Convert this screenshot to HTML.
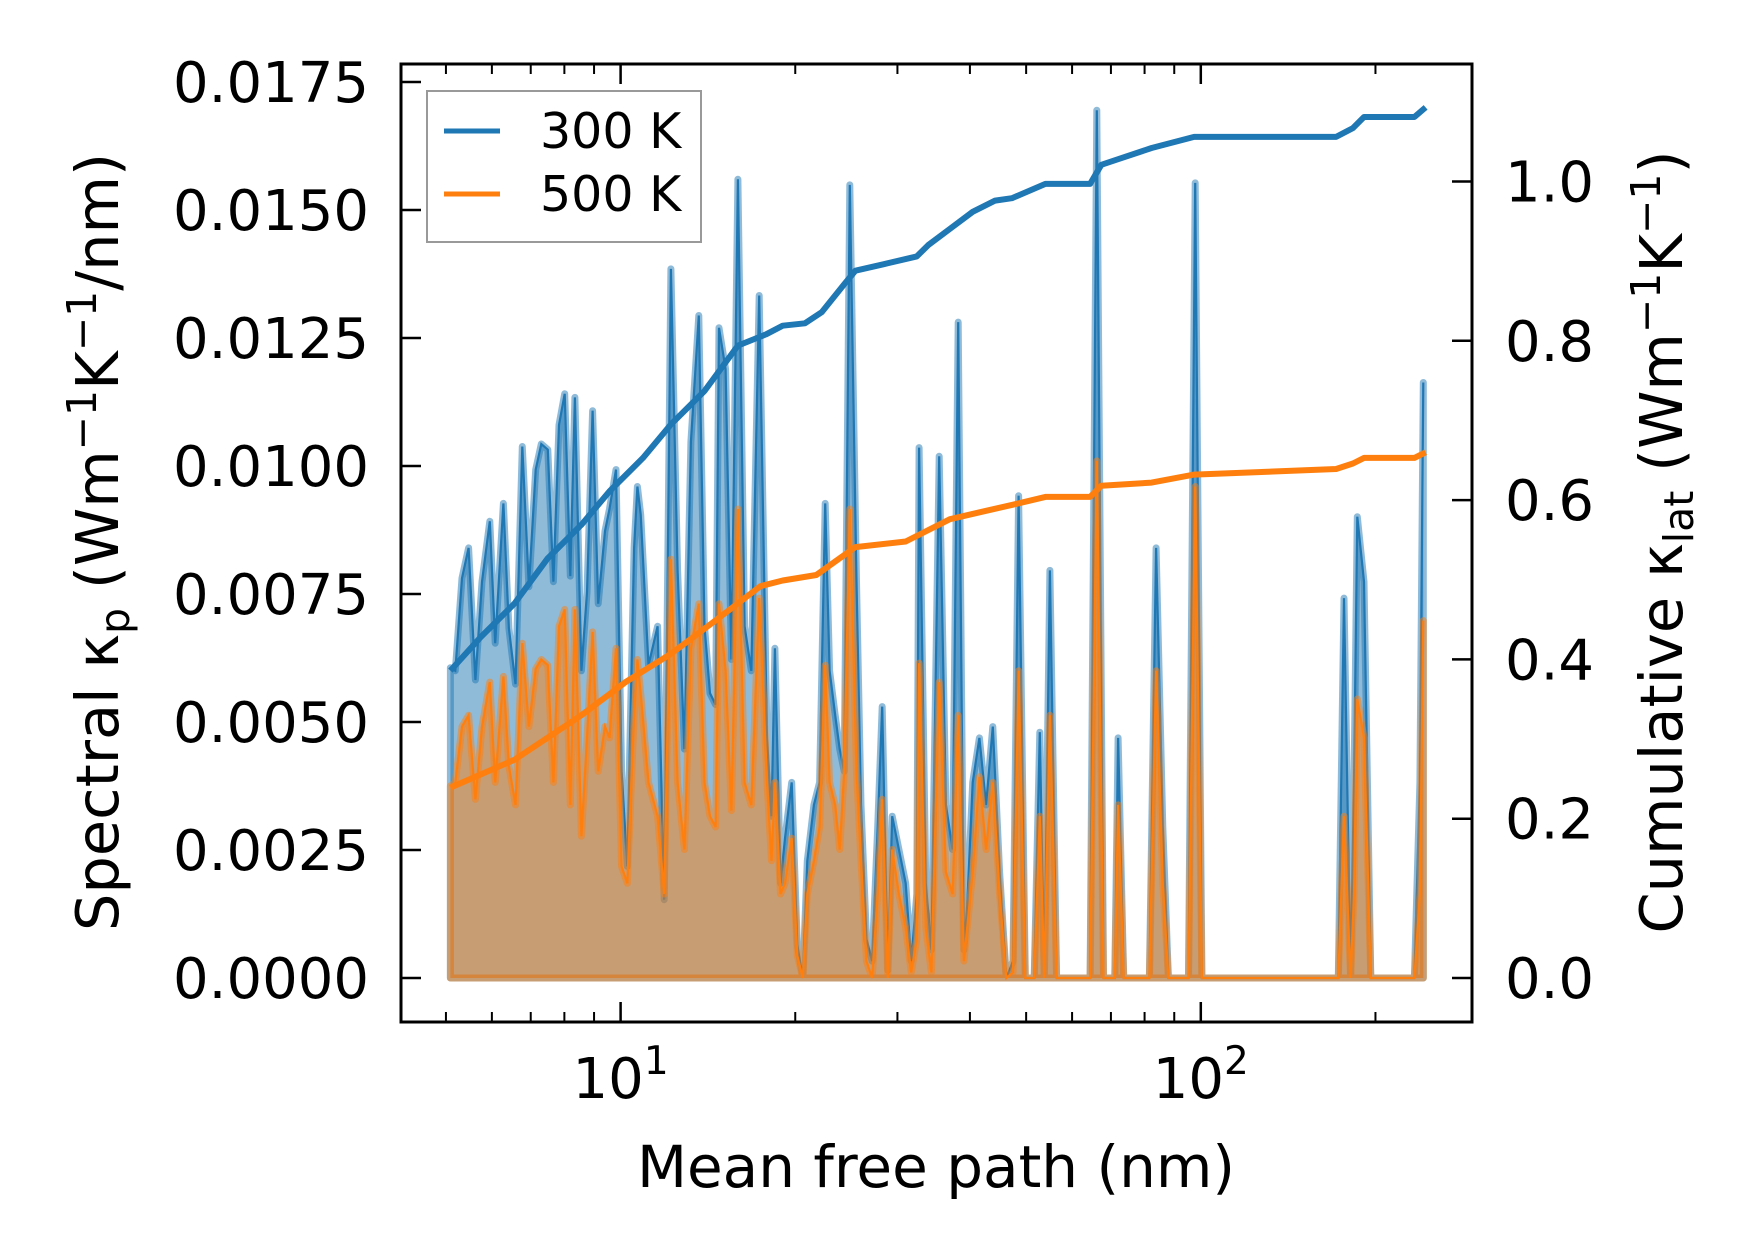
<!DOCTYPE html>
<html><head><meta charset="utf-8">
<style>
html,body{margin:0;padding:0;background:#fff;}
svg{display:block;font-family:"DejaVu Sans","Liberation Sans",sans-serif;}
</style></head>
<body>
<svg id="chart" width="1753" height="1260" viewBox="0 0 1753 1260" xmlns="http://www.w3.org/2000/svg">
  <rect x="0" y="0" width="1753" height="1260" fill="#fff"/>
  <g id="series"></g>
  <g id="axes"></g>
  <text transform="translate(118,542) rotate(-90)" text-anchor="middle" font-size="59">Spectral κ<tspan font-size="41" dy="11">p</tspan><tspan dy="-11"> (Wm</tspan><tspan font-size="41" dy="-22">−1</tspan><tspan dy="22">K</tspan><tspan font-size="41" dy="-22">−1</tspan><tspan dy="22">/nm)</tspan></text>
  <text transform="translate(1682,542) rotate(-90)" text-anchor="middle" font-size="59">Cumulative κ<tspan font-size="41" dy="11">lat</tspan><tspan dy="-11"> (Wm</tspan><tspan font-size="41" dy="-22">−1</tspan><tspan dy="22">K</tspan><tspan font-size="41" dy="-22">−1</tspan><tspan dy="22">)</tspan></text>
  <text x="936" y="1187" text-anchor="middle" font-size="58">Mean free path (nm)</text>
  <g>
    <rect x="427" y="91" width="274" height="151" fill="#fff" fill-opacity="0.8" stroke="#999" stroke-width="2"/>
    <line x1="444" y1="131" x2="500" y2="131" stroke="#1f77b4" stroke-width="5"/>
    <text x="540" y="148" font-size="49">300 K</text>
    <line x1="444" y1="194" x2="500" y2="194" stroke="#ff7f0e" stroke-width="5"/>
    <text x="540" y="211" font-size="49">500 K</text>
  </g>
</svg>
<script>
// ---- data ----
const mfp = [5.09,5.19,5.33,5.47,5.62,5.77,5.95,6.08,6.28,6.42,6.59,6.77,6.95,7.14,7.30,7.49,7.66,7.83,8.01,8.19,8.34,8.56,8.75,8.95,9.15,9.40,9.57,9.82,10.04,10.27,10.55,10.69,10.83,11.17,11.58,11.89,12.21,12.54,12.88,13.22,13.64,13.95,14.26,14.58,14.78,15.17,15.52,15.93,16.36,16.80,17.33,17.88,18.20,18.45,18.86,19.20,19.72,20.16,20.61,20.98,21.54,22.03,22.52,22.92,23.44,23.86,24.29,24.83,25.50,25.96,26.54,27.13,27.74,28.24,28.87,29.39,30.18,31.00,31.69,32.40,32.69,33.58,34.33,35.41,36.37,37.35,38.19,39.05,39.57,40.45,41.54,42.66,43.81,45.00,46.21,47.46,48.52,49.83,51.63,52.79,53.73,54.94,56.42,64.45,66.19,67.98,71.08,72.03,73.64,81.54,83.74,86.00,87.93,95.24,97.81,100.45,172.6,176.5,181.2,183.7,186.1,191.1,196.3,233.4,238.6,241.8];
const spec300 = [0.00606,0.00600,0.00781,0.00840,0.00582,0.00774,0.00892,0.00654,0.00927,0.00683,0.00574,0.01038,0.00764,0.00993,0.01043,0.01032,0.00774,0.01080,0.01141,0.00785,0.01134,0.00600,0.00753,0.01108,0.00731,0.00873,0.00916,0.00993,0.00404,0.00218,0.00840,0.00960,0.00905,0.00611,0.00687,0.00153,0.01385,0.00796,0.00447,0.01047,0.01294,0.00687,0.00556,0.00534,0.01270,0.01189,0.00622,0.01560,0.00687,0.00600,0.01333,0.00469,0.00316,0.00644,0.00185,0.00273,0.00382,0.00065,0,0.00229,0.00338,0.00382,0.00927,0.00600,0.00513,0.00447,0.00404,0.01549,0.00774,0.00338,0.00076,0.00033,0.00295,0.00530,0.00015,0.00316,0.00251,0.00185,0.00033,0.00164,0.01036,0.00185,0.00055,0.01019,0.00338,0.00251,0.01281,0.00055,0.00142,0.00382,0.00469,0.00338,0.00491,0.00207,0,0.00033,0.00942,0,0,0.00480,0,0.00796,0,0,0.01695,0,0,0.00469,0,0,0.00840,0.00295,0,0,0.01553,0,0,0.00742,0,0.00382,0.00901,0.00774,0,0,0.00382,0.01163];
const spec500 = [0.00375,0.00382,0.00491,0.00513,0.00349,0.00491,0.00578,0.00382,0.00589,0.00414,0.00338,0.00654,0.00491,0.00604,0.00622,0.00611,0.00382,0.00687,0.00720,0.00338,0.00720,0.00277,0.00469,0.00676,0.00404,0.00491,0.00469,0.00644,0.00218,0.00185,0.00513,0.00622,0.00556,0.00382,0.00316,0.00164,0.00818,0.00382,0.00251,0.00644,0.00731,0.00382,0.00316,0.00295,0.00731,0.00600,0.00327,0.00916,0.00382,0.00338,0.00742,0.00382,0.00229,0.00382,0.00164,0.00185,0.00273,0.00044,0,0.00164,0.00229,0.00295,0.00611,0.00382,0.00338,0.00251,0.00404,0.00916,0.00404,0.00229,0.00033,0,0.00164,0.00349,0,0.00251,0.00164,0.00098,0.00011,0.00076,0.00615,0.00098,0.00011,0.00578,0.00207,0.00164,0.00513,0.00033,0.00098,0.00207,0.00393,0.00251,0.00382,0.00164,0,0.00011,0.00600,0,0,0.00316,0,0.00513,0,0,0.01010,0,0,0.00338,0,0,0.00600,0.00185,0,0,0.00960,0,0,0.00316,0,0.00164,0.00545,0.00469,0,0,0.00164,0.00698];
const cumX300 = [5.09,5.74,6.56,7.49,8.56,9.57,10.93,12.21,13.95,15.93,17.80,19.03,20.79,22.22,24.29,25.39,28.37,32.40,33.88,37.02,40.45,44.21,47.25,53.98,64.45,67.38,72.03,82.27,97.38,171.1,182.9,191.1,233.4,244.0];
const cum300 = [0.386,0.428,0.470,0.527,0.569,0.611,0.653,0.695,0.737,0.794,0.808,0.819,0.822,0.836,0.871,0.888,0.896,0.906,0.920,0.941,0.962,0.976,0.979,0.997,0.997,1.021,1.028,1.042,1.056,1.056,1.067,1.081,1.081,1.093];
const cumX500 = [5.09,6.56,8.56,10.22,12.21,14.58,17.42,19.03,21.74,25.39,31.00,36.95,42.29,47.25,53.98,64.45,67.38,82.27,97.38,171.1,182.9,191.1,233.4,244.0];
const cum500 = [0.239,0.274,0.330,0.372,0.407,0.449,0.492,0.499,0.506,0.541,0.548,0.576,0.586,0.594,0.604,0.604,0.618,0.622,0.632,0.639,0.646,0.653,0.653,0.660];
const leftTicks = [0,0.0025,0.005,0.0075,0.01,0.0125,0.015,0.0175];
const leftTickLabels = ["0.0000","0.0025","0.0050","0.0075","0.0100","0.0125","0.0150","0.0175"];
const rightTicks = [0,0.2,0.4,0.6,0.8,1.0];
const rightTickLabels = ["0.0","0.2","0.4","0.6","0.8","1.0"];
const xMajor = [10,100];
const xMajorExp = ["1","2"];
const xMinor = [5,6,7,8,9,20,30,40,50,60,70,80,90,200];

// ---- axes ----
const L=401,R=1472,T=64,B=1022;
const sx = v => 620.6 + (Math.log10(v)-1)*580.2;
const sy = v => 978 - v/0.0025*128;
const sy2 = v => 978 - v*796.5;
const NS='http://www.w3.org/2000/svg';
const series=document.getElementById('series'), axes=document.getElementById('axes');
function mk(tag,parent){const e=document.createElementNS(NS,tag);parent.appendChild(e);return e;}

function drawSpec(xs,ys,color,nm){
  let pts=xs.map((x,i)=>sx(x).toFixed(1)+','+sy(ys[i]).toFixed(1));
  const base=sy(0).toFixed(1);
  const poly=mk('polygon',series);
  
  
  poly.setAttribute('points', sx(xs[0]).toFixed(1)+','+base+' '+pts.join(' ')+' '+sx(xs[xs.length-1]).toFixed(1)+','+base);
  poly.setAttribute('fill', color); poly.setAttribute('fill-opacity','0.5');
  poly.setAttribute('stroke', color); poly.setAttribute('stroke-opacity','0.5');
  poly.setAttribute('stroke-width','7'); poly.setAttribute('stroke-linejoin','round');
  const ln=mk('polyline',series);
  
  
  ln.setAttribute('points', pts.join(' '));
  ln.setAttribute('fill','none'); ln.setAttribute('stroke',color); ln.setAttribute('stroke-width','2.2');
}
drawSpec(mfp,spec300,'#1f77b4','spectral-300k');
drawSpec(mfp,spec500,'#ff7f0e','spectral-500k');
function drawCum(xs,ys,color,nm){
  const ln=mk('polyline',series);
  
  
  ln.setAttribute('points', xs.map((x,i)=>sx(x).toFixed(1)+','+sy2(ys[i]).toFixed(1)).join(' '));
  ln.setAttribute('fill','none'); ln.setAttribute('stroke',color); ln.setAttribute('stroke-width','6'); ln.setAttribute('stroke-linejoin','round');
}
drawCum(cumX300,cum300,'#1f77b4','cumulative-300k');
drawCum(cumX500,cum500,'#ff7f0e','cumulative-500k');

function line(x1,y1,x2,y2,nm,w){
  const l=mk('line',axes);
  
  
  l.setAttribute('x1',x1);l.setAttribute('y1',y1);l.setAttribute('x2',x2);l.setAttribute('y2',y2);
  l.setAttribute('stroke','#000');l.setAttribute('stroke-width',w||2.5);
}
function text(x,y,s,anchor,nm){
  const t=mk('text',axes);
  
  
  t.setAttribute('x',x);t.setAttribute('y',y);t.setAttribute('font-size','56');t.setAttribute('text-anchor',anchor);
  t.textContent=s; return t;
}
leftTicks.forEach((v,i)=>{const y=sy(v);line(L,y,L+20,y,'left-tick');text(369,y+20,leftTickLabels[i],'end','left-tick-label');});
rightTicks.forEach((v,i)=>{const y=sy2(v);line(R-20,y,R,y,'right-tick');text(1505,y+20,rightTickLabels[i],'start','right-tick-label');});
xMajor.forEach((v,i)=>{const x=sx(v);line(x,B,x,B-20,'x-major-tick');line(x,T,x,T+20,'x-major-tick-top');
  const t=text(x,1098,'10','middle','x-tick-label');
  const s=document.createElementNS(NS,'tspan');s.setAttribute('font-size','39');s.setAttribute('dy','-24');s.textContent=xMajorExp[i];t.appendChild(s);
});
xMinor.forEach(v=>{const x=sx(v);line(x,B,x,B-10,'x-minor-tick',2);line(x,T,x,T+10,'x-minor-tick-top',2);});
const fr=mk('rect',axes);


fr.setAttribute('x',L);fr.setAttribute('y',T);fr.setAttribute('width',R-L);fr.setAttribute('height',B-T);
fr.setAttribute('fill','none');fr.setAttribute('stroke','#000');fr.setAttribute('stroke-width','3');
</script>
</body></html>
